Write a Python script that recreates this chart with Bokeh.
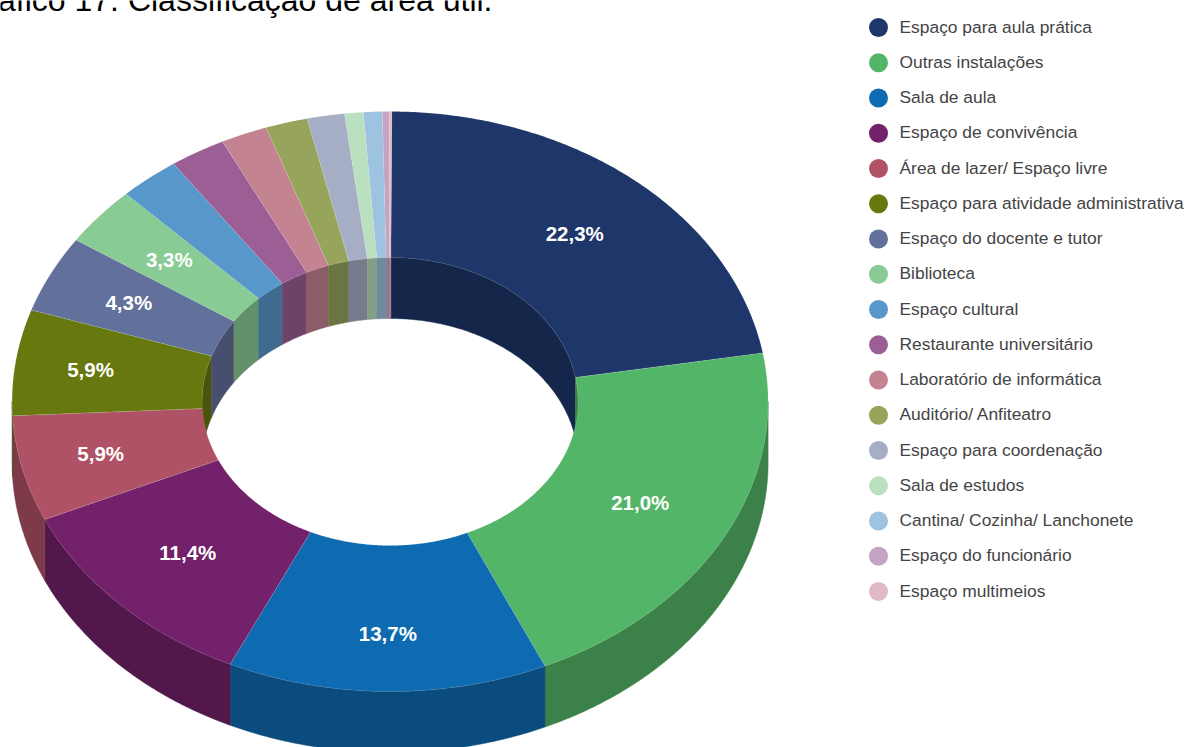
import numpy as np
from bokeh.plotting import figure
from bokeh.core.properties import value
from bokeh.embed import file_html
from bokeh.resources import INLINE

categories = ["Espaço para aula prática", "Outras instalações", "Sala de aula", "Espaço de convivência",
              "Área de lazer/ Espaço livre", "Espaço para atividade administrativa", "Espaço do docente e tutor",
              "Biblioteca", "Espaço cultural", "Restaurante universitário", "Laboratório de informática",
              "Auditório/ Anfiteatro", "Espaço para coordenação", "Sala de estudos",
              "Cantina/ Cozinha/ Lanchonete", "Espaço do funcionário", "Espaço multimeios"]
values = [22.3, 21.0, 13.7, 11.4, 5.9, 5.9, 4.3, 3.3, 2.6, 2.4, 2.0, 1.8, 1.6, 0.8, 0.8, 0.3, 0.1]
colors = ["#1e3669", "#53b567", "#0f6bb1", "#73216a", "#b05265", "#66780e", "#62719b", "#88cb94", "#5797c9",
          "#9b5f96", "#c48391", "#96a55b", "#a6aec5", "#bae0c0", "#9dc3e0", "#c5a3c3", "#e0b9c4"]
labels = ["22,3%", "21,0%", "13,7%", "11,4%", "5,9%", "5,9%", "4,3%", "3,3%"]
title = "Gráfico 17. Classificação de área útil."

W, H = 1187, 747
CX, CY, RX, RY, IRX, IRY, DEPTH = 389.6, 401, 378, 290, 188, 144, 61
SHADE = 0.71
START = 0.25
LABEL_R = [0.755, 0.75, 0.803, 0.75, 0.787, 0.80, 0.77, 0.76]


def darken(c):
    r, g, b = [int(c[i:i + 2], 16) for i in (1, 3, 5)]
    return "#%02x%02x%02x" % (round(r * SHADE), round(g * SHADE), round(b * SHADE))


def arc(a0, a1, rx, ry, dy=0.0):
    n = max(2, int(abs(a1 - a0) / 0.5) + 2)
    t = np.radians(np.linspace(a0, a1, n))
    return CX + rx * np.sin(t), CY - ry * np.cos(t) + dy


def wall(a0, a1, rx, ry):
    x0, y0 = arc(a0, a1, rx, ry)
    x1, y1 = arc(a1, a0, rx, ry, DEPTH)
    return list(np.r_[x0, x1]), list(np.r_[y0, y1])


p = figure(width=W, height=H, x_range=(0, W), y_range=(H, 0), output_backend="svg", toolbar_location=None,
           min_border=0, outline_line_color=None)
p.axis.visible = False
p.grid.visible = False

cum = START + np.r_[0, np.cumsum(values)] / sum(values) * 360
spans = list(zip(cum[:-1], cum[1:]))

# inner wall, far side of the hole
for (a0, a1), c in zip(spans, colors):
    for lo, hi in ((a0, min(a1, 90)), (max(a0, 270), a1)):
        if hi > lo:
            x, y = wall(lo, hi, IRX, IRY)
            p.patch(x, y, fill_color=darken(c), line_color=darken(c), line_width=0.5)

# outer wall, near side
for (a0, a1), c in zip(spans, colors):
    lo, hi = max(a0, 90), min(a1, 270)
    if hi > lo:
        x, y = wall(lo, hi, RX, RY)
        p.patch(x, y, fill_color=darken(c), line_color=darken(c), line_width=0.5)

# top face
for (a0, a1), c in zip(spans, colors):
    xo, yo = arc(a0, a1, RX, RY)
    xi, yi = arc(a1, a0, IRX, IRY)
    p.patch(list(np.r_[xo, xi]), list(np.r_[yo, yi]), fill_color=c, line_color="#ffffff", line_alpha=0.15,
            line_width=0.7)

# slice labels
lx, ly = [], []
for (a0, a1), r in zip(spans, LABEL_R):
    t = np.radians((a0 + a1) / 2)
    lx.append(CX + r * RX * np.sin(t))
    ly.append(CY - r * RY * np.cos(t) - 1)
p.text(lx, ly, text=labels, text_color="#ffffff", text_font=value("Liberation Sans"), text_font_style="bold",
       text_font_size="20.5px", text_align="center", text_baseline="middle")

# legend
ky = [27 + i * 35.25 for i in range(len(categories))]
p.scatter([878] * len(ky), ky, size=19, fill_color=colors, line_color=None)
p.text([899] * len(ky), [y - 0.8 for y in ky], text=categories, text_color="#444444",
       text_font=value("Liberation Sans"), text_font_size="17.4px", text_align="left", text_baseline="middle")

# title, clipped by the page edge as in the source
p.text([492], [-1], text=[title], text_color="#000000", text_font=value("Liberation Sans"),
       text_font_size="32px", text_align="right", text_baseline="alphabetic")

open("out.html", "w").write(file_html(p, INLINE))
